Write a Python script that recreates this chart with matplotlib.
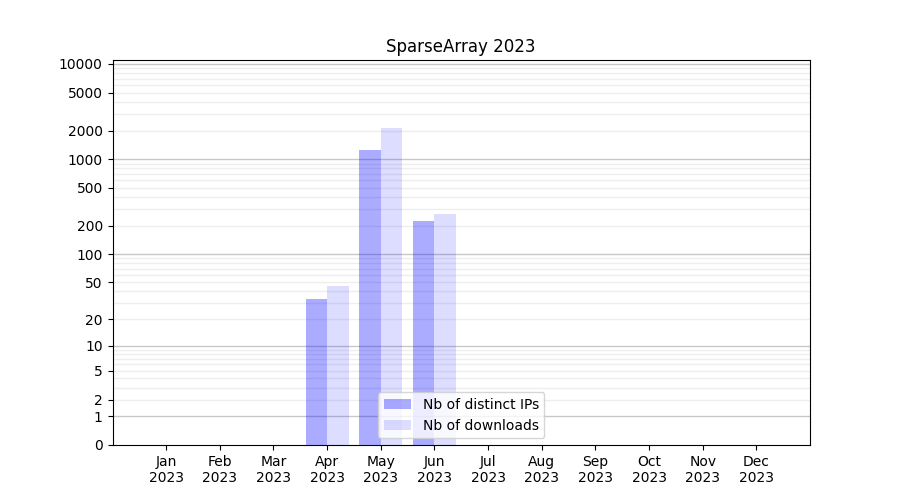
import numpy as np
import matplotlib
matplotlib.use("Agg")
import matplotlib.pyplot as plt

months = ["Jan", "Feb", "Mar", "Apr", "May", "Jun", "Jul", "Aug", "Sep", "Oct", "Nov", "Dec"]
year = "2023"
distinct_ips = [0, 0, 0, 33, 1250, 224, 0, 0, 0, 0, 0, 0]
downloads = [0, 0, 0, 46, 2130, 266, 0, 0, 0, 0, 0, 0]
ytick_values = [0, 1, 2, 5, 10, 20, 50, 100, 200, 500, 1000, 2000, 5000, 10000]

fig, ax = plt.subplots(figsize=(9, 5), dpi=100)
ax.set_yscale("function", functions=(lambda v: np.log10(1 + np.clip(v, 0, None)),
                                      lambda v: 10 ** v - 1))

x = np.arange(len(months))
w = 0.4
ax.bar(x - w / 2, distinct_ips, width=w, color="blue", alpha=0.33, label="Nb of distinct IPs", zorder=2)
ax.bar(x + w / 2, downloads, width=w, color="blue", alpha=0.133, label="Nb of downloads", zorder=2)

# grid lines
for dec in [1, 10, 100, 1000]:
    for m in range(2, 10):
        ax.axhline(m * dec, color="#eeeeee", lw=1, zorder=0)
for dec in [1, 10, 100, 1000, 10000]:
    ax.axhline(dec, color="#c8c8c8", lw=1, zorder=0)

ax.set_ylim(0, 11000)
ax.set_xlim(-1, 12)
ax.set_yticks(ytick_values)
ax.set_yticklabels([str(v) for v in ytick_values])
ax.yaxis.set_minor_locator(matplotlib.ticker.NullLocator())
ax.set_xticks(x)
ax.set_xticklabels([f"{m}\n{year}" for m in months])
ax.set_title("SparseArray 2023")
ax.legend(loc="lower center")

fig.savefig("out.png")
